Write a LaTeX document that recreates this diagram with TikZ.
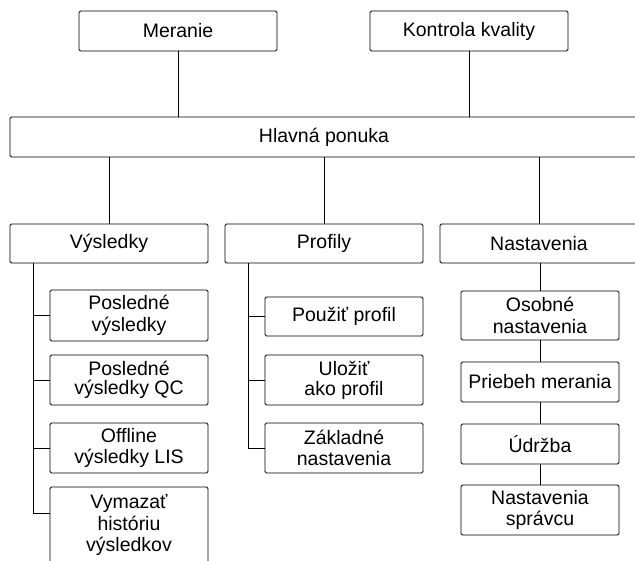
\documentclass[tikz,border=0pt]{standalone}
\usepackage{fontspec}
\setmainfont{Liberation Sans}
\begin{document}
\begin{tikzpicture}[x=1pt,y=-1pt,
  every node/.style={font=\fontsize{19.5}{21.7}\selectfont},
  box/.style={draw, fill=white, rounded corners=1.5pt, line width=0.9pt, align=center, inner sep=0pt},
  top/.style={box, minimum width=198pt, minimum height=40pt},
  sub/.style={box, minimum width=158pt},
  conn/.style={line width=0.9pt}]
\useasboundingbox[fill=white] (0,0) rectangle (635,561);
% top level
\node[top] (m) at (178,31) {Meranie};
\node[top] (k) at (469,31) {Kontrola kvality};
\node[box, minimum width=628pt, minimum height=40pt] (hp) at (324,137) {Hlavná ponuka};
% second level
\node[top, minimum height=39pt] (vy) at (109,243.5) {Výsledky};
\node[top, minimum height=39pt] (pr) at (324,243.5) {Profily};
\node[top, minimum height=39pt] (na) at (539,243.5) {Nastavenia};
% Výsledky children
\node[sub, minimum height=51pt] (v1) at (129,315.5) {Posledné\\výsledky};
\node[sub, minimum height=50pt, font=\fontsize{19.5}{18.8}\selectfont] (v2) at (129,380) {Posledné\\výsledky QC};
\node[sub, minimum height=50pt] (v3) at (129,448) {Offline\\výsledky LIS};
\node[sub, minimum height=76pt] (v4) at (129,525) {Vymazať\\históriu\\výsledkov};
% Profily children
\node[sub, minimum height=39pt] (p1) at (344,316.5) {Použiť profil};
\node[sub, minimum height=50pt, font=\fontsize{19.5}{20}\selectfont] (p2) at (344,380) {Uložiť\\ako profil};
\node[sub, minimum height=50pt] (p3) at (344,448) {Základné\\nastavenia};
% Nastavenia children
\node[sub, minimum height=49pt] (n1) at (540,315.5) {Osobné\\nastavenia};
\node[sub, minimum height=40pt] (n2) at (540,382) {Priebeh merania};
\node[sub, minimum height=40pt] (n3) at (540,444) {Údržba};
\node[sub, minimum height=50pt] (n4) at (540,510) {Nastavenia\\správcu};
% helper coordinates
\coordinate (vx) at (33,0);
\coordinate (px) at (248,0);
\coordinate (v4c) at (33,513);
% connectors top
\draw[conn] (m.south) -- (m.south |- hp.north);
\draw[conn] (k.south) -- (k.south |- hp.north);
\draw[conn] (hp.south -| vy.north) -- (vy.north);
\draw[conn] (hp.south -| pr.north) -- (pr.north);
\draw[conn] (hp.south -| na.north) -- (na.north);
% Výsledky tree
\draw[conn] (vy.south -| vx) -- (v4c) -- (v4c -| v4.west);
\draw[conn] (vx |- v1.west) -- (v1.west);
\draw[conn] (vx |- v2.west) -- (v2.west);
\draw[conn] (vx |- v3.west) -- (v3.west);
% Profily tree
\draw[conn] (pr.south -| px) -- (px |- p3.west) -- (p3.west);
\draw[conn] (px |- p1.west) -- (p1.west);
\draw[conn] (px |- p2.west) -- (p2.west);
% Nastavenia chain
\draw[conn] (na.south -| n1.north) -- (n1.north);
\draw[conn] (n1.south) -- (n2.north);
\draw[conn] (n2.south) -- (n3.north);
\draw[conn] (n3.south) -- (n4.north);
\end{tikzpicture}
\end{document}
